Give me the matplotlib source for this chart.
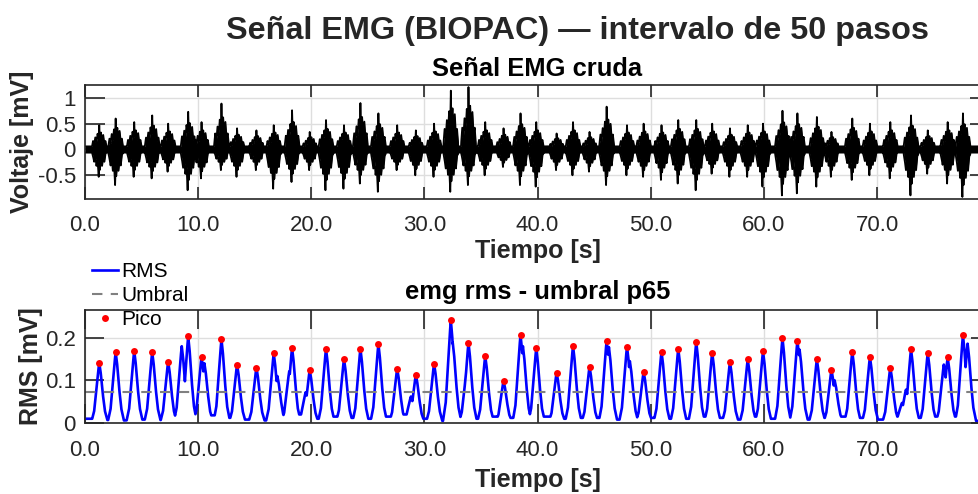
import numpy as np
import matplotlib
matplotlib.use('Agg')
import matplotlib.pyplot as plt

plt.rcParams['font.family'] = ['Liberation Sans', 'DejaVu Sans']

# Picos detectados en la envolvente RMS (tiempo [s], valor [mV])
pico_t = [1.26, 2.71, 4.35, 5.94, 7.35, 9.12, 10.30, 12.06, 13.44, 15.15,
          16.68, 18.30, 19.86, 21.30, 22.89, 24.34, 25.93, 27.59, 29.24, 30.85,
          32.33, 33.89, 35.37, 36.99, 38.49, 39.88, 41.68, 43.13, 44.59, 46.10,
          47.90, 49.37, 50.95, 52.43, 54.02, 55.43, 57.00, 58.57, 59.92, 61.64,
          62.96, 64.68, 65.97, 67.81, 69.37, 71.17, 73.00, 74.48, 76.24, 77.59]
pico_v = [0.141, 0.166, 0.169, 0.166, 0.144, 0.203, 0.155, 0.196, 0.137, 0.130,
          0.163, 0.176, 0.124, 0.174, 0.150, 0.174, 0.185, 0.127, 0.113, 0.139,
          0.241, 0.188, 0.157, 0.099, 0.207, 0.175, 0.118, 0.181, 0.132, 0.193,
          0.179, 0.120, 0.167, 0.174, 0.190, 0.165, 0.143, 0.149, 0.168, 0.199,
          0.193, 0.149, 0.125, 0.167, 0.155, 0.130, 0.173, 0.164, 0.154, 0.206]

# hombros secundarios de la envolvente (sin marca de pico)
hombro_t = [8.55, 10.55, 17.0, 18.05, 19.5, 28.8, 32.5, 33.75, 38.7, 46.3,
            48.15, 63.15, 66.25, 72.2, 72.55, 75.9, 78.0]
hombro_v = [0.180, 0.140, 0.110, 0.121, 0.072, 0.062, 0.188, 0.129, 0.180, 0.178,
            0.145, 0.172, 0.100, 0.047, 0.078, 0.137, 0.186]

# nivel de reposo RMS entre rafagas (antes, entre cada par, despues)
reposo_v = [0.010, 0.007, 0.006, 0.008, 0.007, 0.008, 0.010, 0.018, 0.012, 0.008,
            0.006, 0.012, 0.020, 0.010, 0.015, 0.012, 0.010, 0.015, 0.020, 0.010,
            0.005, 0.012, 0.010, 0.015, 0.012, 0.008, 0.015, 0.010, 0.012, 0.012,
            0.008, 0.006, 0.012, 0.010, 0.010, 0.015, 0.012, 0.008, 0.015, 0.010,
            0.010, 0.008, 0.012, 0.015, 0.012, 0.008, 0.015, 0.012, 0.015, 0.015,
            0.005]

# amplitud maxima / minima de cada rafaga en la senal cruda [mV]
cruda_max = [0.47, 0.60, 0.53, 0.66, 0.50, 0.73, 0.53, 0.89, 0.41, 0.37,
             0.47, 0.76, 0.34, 0.57, 0.47, 0.90, 0.70, 0.47, 0.37, 0.50,
             1.14, 1.21, 0.53, 0.41, 0.70, 0.53, 0.31, 0.53, 0.34, 0.83,
             0.47, 0.50, 0.47, 0.57, 0.57, 0.50, 0.41, 0.47, 0.50, 0.75,
             0.70, 0.63, 0.34, 0.60, 0.50, 0.53, 0.66, 0.37, 0.53, 0.70]
cruda_min = [-0.53, -0.69, -0.53, -0.56, -0.43, -0.79, -0.56, -0.40, -0.53, -0.40,
             -0.76, -0.63, -0.40, -0.79, -0.76, -0.66, -0.82, -0.40, -0.50, -0.53,
             -0.82, -0.69, -0.50, -0.34, -0.69, -0.72, -0.40, -0.50, -0.43, -0.69,
             -0.50, -0.53, -0.59, -0.66, -0.79, -0.47, -0.53, -0.53, -0.72, -0.89,
             -0.85, -0.72, -0.53, -0.59, -0.50, -0.56, -0.89, -0.47, -0.66, -0.92]

umbral = 0.073
t_fin = 79.98

# forma de dibujo de cada rafaga (relativa al pico)
forma_dt = np.array([-0.65, -0.55, -0.45, -0.35, -0.25, -0.15, -0.05, 0, 0.05, 0.15, 0.25, 0.35, 0.45, 0.55, 0.65])
forma_sup = np.array([0.1, 0.35, 0.2, 0.5, 0.3, 0.65, 0.45, 1.0, 0.5, 0.7, 0.35, 0.6, 0.25, 0.35, 0.1])
forma_inf = np.array([0.1, 0.25, 0.45, 0.25, 0.6, 0.4, 1.0, 0.5, 0.75, 0.4, 0.6, 0.3, 0.45, 0.15, 0.1])
rms_dt = np.array([-0.72, -0.45, -0.28, -0.1, 0, 0.12, 0.3, 0.5, 0.78])
rms_f = np.array([0, 0.2, 0.5, 0.85, 1, 0.85, 0.5, 0.2, 0])

t = np.arange(0, t_fin, 0.01)

sup = np.full_like(t, 0.06)
inf = np.full_like(t, -0.06)
for tk, a, b in zip(pico_t, cruda_max, cruda_min):
    sup = np.maximum(sup, np.interp(t, tk + forma_dt, a * forma_sup, left=0, right=0))
    inf = np.minimum(inf, np.interp(t, tk + forma_dt, b * forma_inf, left=0, right=0))

rms = np.array(reposo_v)[np.searchsorted(pico_t, t)]
for tk, v in zip(pico_t + hombro_t, pico_v + hombro_v):
    rms = np.maximum(rms, np.interp(t, tk + rms_dt, v * rms_f, left=0, right=0))

W, H = 979, 494
fig = plt.figure(figsize=(W / 100, H / 100), dpi=100)
ax1 = fig.add_axes([85 / W, 1 - 199 / H, 905 / W, 114 / H])
ax2 = fig.add_axes([85 / W, 1 - 423 / H, 905 / W, 113 / H])

# senal cruda
ax1.fill_between(t, inf, sup, color='k', lw=0)
ax1.plot(t, sup, color='k', lw=1.3)
ax1.plot(t, inf, color='k', lw=1.3)

# envolvente RMS
ax2.plot(t, rms, color=(0, 0, 1), lw=1.9, label='RMS')
ax2.plot([0, t_fin], [umbral, umbral], '--', color=(0.5, 0.5, 0.5), lw=1.5,
         dashes=(5, 4), label='Umbral')
ax2.plot(pico_t, pico_v, 'o', color=(1, 0, 0), ms=5, mec='none', label='Pico')

ax1.set_ylim(-0.96, 1.25)
ax1.set_yticks([-0.5, 0, 0.5, 1])
ax1.set_yticklabels(['-0.5', '0', '0.5', '1'])
ax2.set_ylim(0, 0.265)
ax2.set_yticks([0, 0.1, 0.2])
ax2.set_yticklabels(['0', '0.1', '0.2'])

gris = '#262626'
for ax, xlen, ylen, xpad in ((ax1, 8.6, 14.4, 11.5), (ax2, 13.7, 13.7, 12)):
    ax.set_xlim(0, t_fin)
    xt = np.arange(0, 80, 10)
    ax.set_xticks(xt)
    ax.set_xticklabels([f'{v:.1f}' for v in xt])
    ax.tick_params(axis='both', direction='in', top=True, right=True,
                   colors=gris, labelsize=16, width=1.2)
    ax.tick_params(axis='x', length=xlen, pad=xpad)
    ax.tick_params(axis='y', length=ylen, pad=6.5)
    ax.grid(True, color='#dedede', lw=1.0)
    ax.set_axisbelow(True)
    for s in ax.spines.values():
        s.set_color(gris)
        s.set_linewidth(1.2)
    ax.set_xlabel('Tiempo [s]', fontsize=18, fontweight='bold', color=gris)

ax1.xaxis.set_label_coords(0.5, -0.35)
ax2.xaxis.set_label_coords(0.5, -0.398)
ax1.set_ylabel('Voltaje [mV]', fontsize=18, fontweight='bold', color=gris)
ax2.set_ylabel('RMS [mV]', fontsize=18, fontweight='bold', color=gris)
ax1.yaxis.set_label_coords(-0.0569, 0.5)
ax2.yaxis.set_label_coords(-0.0464, 0.5)

ax2.legend(loc='upper left', bbox_to_anchor=(92 / W, 1 - 262 / H),
           bbox_transform=fig.transFigure, frameon=False, fontsize=15,
           handlelength=1.25, handletextpad=0.15, labelspacing=0.25,
           borderpad=0, borderaxespad=0, numpoints=1)

fig.text(577.5 / W, 1 - 39 / H, 'Señal EMG (BIOPAC) — intervalo de 50 pasos',
         ha='center', va='baseline', fontsize=23.3, fontweight='bold', color=gris)
fig.text(537.5 / W, 1 - 76 / H, 'Señal EMG cruda', ha='center', va='baseline',
         fontsize=18.4, fontweight='bold', color='k')
fig.text(537.5 / W, 1 - 299 / H, 'emg rms - umbral p65', ha='center', va='baseline',
         fontsize=18.4, fontweight='bold', color='k')

fig.savefig('out.png', dpi=100)
